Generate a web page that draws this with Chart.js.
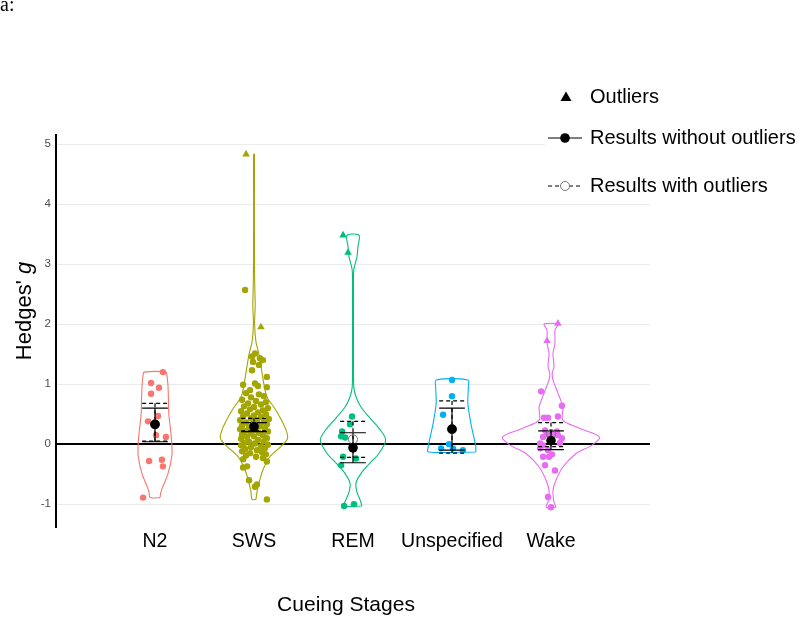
<!DOCTYPE html>
<html>
<head>
<meta charset="utf-8">
<script src="https://cdn.jsdelivr.net/npm/chart.js@4.4.1/dist/chart.umd.min.js"></script>
<style>
  html, body { margin: 0; padding: 0; background: #fff; }
  #wrap { width: 800px; height: 618px; }
</style>
</head>
<body>
<div id="wrap"><canvas id="violinChart" width="800" height="618"></canvas></div>
<script>
// categories sit at x = 1..5 on a linear axis running 0..6
const categories = ['N2', 'SWS', 'REM', 'Unspecified', 'Wake'];
const colors = ['#F8766D', '#A3A500', '#00BF7D', '#00B0F6', '#E76BF3'];
const yTicks = [-1, 0, 1, 2, 3, 4, 5];

// violin outlines: y levels and half widths (x units)
const violinN2Y = [-0.89, -0.8, -0.72, -0.5, -0.2, 0, 0.2, 0.5, 0.8, 1.0, 1.15, 1.2];
const violinN2W = [0.05, 0.06, 0.076, 0.13, 0.17, 0.17, 0.16, 0.14, 0.135, 0.13, 0.12, 0.11];
const violinSWSY = [-0.92, -0.8, -0.65, -0.43, -0.21, -0.04, 0.1, 0.29, 0.57, 0.79, 1.0, 1.2, 1.5, 1.7, 2.0, 2.3, 2.6, 3.0, 4.0, 4.83];
const violinSWSW = [0.02, 0.03, 0.05, 0.09, 0.16, 0.27, 0.34, 0.31, 0.22, 0.13, 0.10, 0.08, 0.05, 0.02, 0.006, 0.012, 0.008, 0.005, 0.004, 0.004];
const violinREMY = [-1.03, -0.92, -0.8, -0.65, -0.49, -0.3, -0.16, 0.07, 0.25, 0.4, 0.62, 0.79, 0.95, 1.5, 2.5, 2.9, 3.12, 3.29, 3.48];
const violinREMW = [0.09, 0.07, 0.04, 0.03, 0.08, 0.18, 0.26, 0.33, 0.27, 0.19, 0.08, 0.03, 0.008, 0.005, 0.005, 0.008, 0.04, 0.05, 0.06];
const violinUnspY = [-0.13, -0.04, 0.12, 0.35, 0.68, 0.95, 1.07];
const violinUnspW = [0.24, 0.24, 0.22, 0.19, 0.16, 0.165, 0.16];
const violinWakeY = [-1.05, -0.96, -0.77, -0.6, -0.38, -0.16, -0.02, 0.12, 0.27, 0.4, 0.62, 0.85, 1.07, 1.18, 1.29, 1.51, 1.68, 1.9, 2.0];
const violinWakeW = [0.05, 0.03, 0.02, 0.05, 0.12, 0.25, 0.41, 0.49, 0.28, 0.12, 0.12, 0.07, 0.02, 0.012, 0.03, 0.02, 0.04, 0.04, 0.07];

// individual effect sizes: [jitter offset, g]
const dotsN2 = [[0.08, 1.20], [-0.04, 1.02], [0.04, 0.94], [-0.04, 0.84], [0.03, 0.47], [-0.07, 0.38],
  [0.01, 0.15], [0.11, 0.12], [-0.06, -0.28], [0.07, -0.26], [0.08, -0.37], [-0.12, -0.89]];
const dotsSWS = [[0.01, 1.51], [-0.02, 1.46], [0.06, 1.43], [-0.01, 1.37], [0.09, 1.40], [0.05, 1.32],
  [-0.02, 1.23], [0.13, 1.12], [-0.11, 0.99], [0.01, 1.01], [-0.04, 0.90], [0.13, 0.95], [0.04, 0.97],
  [-0.09, 2.57],
  [-0.08, 0.85], [0.05, 0.83], [0.10, 0.80], [-0.03, 0.78], [-0.12, 0.74], [0.02, 0.72], [0.12, 0.70],
  [-0.06, 0.68], [0.07, 0.66], [-0.10, 0.63], [0.00, 0.62], [0.14, 0.60], [-0.04, 0.58], [0.09, 0.56],
  [-0.13, 0.55], [0.04, 0.53], [-0.07, 0.51], [0.12, 0.50], [0.00, 0.48], [-0.11, 0.46], [0.07, 0.45],
  [-0.03, 0.43], [0.15, 0.42], [-0.14, 0.40], [0.03, 0.39], [0.10, 0.37], [-0.08, 0.36], [-0.01, 0.34],
  [0.13, 0.33], [-0.12, 0.31], [0.06, 0.30], [-0.05, 0.28], [0.11, 0.26], [-0.14, 0.25], [0.02, 0.24],
  [-0.09, 0.22], [0.14, 0.21], [0.05, 0.19], [-0.03, 0.18], [-0.12, 0.16], [0.09, 0.15], [0.00, 0.13],
  [-0.07, 0.12], [0.13, 0.10], [-0.13, 0.09], [0.04, 0.07], [0.10, 0.05], [-0.05, 0.04], [-0.10, 0.02],
  [0.01, 0.01], [0.14, -0.01], [-0.13, -0.02], [0.07, -0.04], [-0.03, -0.05], [0.11, -0.07], [-0.09, -0.08],
  [0.03, -0.10], [-0.12, -0.12], [0.08, -0.13], [-0.04, -0.15], [0.12, -0.17], [-0.08, -0.19], [0.02, -0.21],
  [0.09, -0.23], [-0.11, -0.25],
  [-0.07, -0.37], [-0.11, -0.39], [0.13, -0.29], [-0.05, -0.60], [0.01, -0.71], [0.03, -0.67], [0.13, -0.92]];
const dotsREM = [[-0.01, 0.46], [-0.03, 0.33], [-0.11, 0.21], [-0.12, 0.13], [-0.08, 0.11], [-0.10, -0.21],
  [0.03, -0.24], [-0.12, -0.35], [-0.09, -1.03], [0.01, -1.00]];
const dotsUnsp = [[0.00, 1.07], [0.00, 0.80], [-0.09, 0.49], [-0.03, 0.00], [-0.11, -0.07], [0.01, -0.07], [0.11, -0.10]];
const dotsWake = [[-0.10, 0.88], [0.11, 0.64], [-0.07, 0.44], [-0.03, 0.44], [0.07, 0.46], [-0.11, 0.01],
  [-0.08, 0.12], [-0.04, 0.17], [0.02, 0.18], [0.07, 0.15], [0.11, 0.10], [0.09, 0.02], [-0.08, -0.02],
  [-0.11, -0.07], [-0.03, -0.10], [0.01, -0.17], [-0.08, -0.21], [-0.02, -0.21], [-0.06, -0.35],
  [0.04, -0.44], [0.06, 0.21], [-0.06, 0.23], [-0.03, -0.88], [0.00, -1.05]];

// outliers (triangles)
const outliersSWS = [[-0.08, 4.83], [0.07, 1.95]];
const outliersREM = [[-0.10, 3.48], [-0.05, 3.19]];
const outliersWake = [[0.07, 2.01], [-0.04, 1.72]];

// summary estimates
const meanNoOut = [0.33, 0.29, -0.06, 0.25, 0.06];
const lowNoOut = [0.04, 0.21, -0.31, -0.10, -0.09];
const highNoOut = [0.60, 0.36, 0.19, 0.60, 0.22];
const meanWithOut = [0.33, 0.30, 0.08, 0.25, 0.17];
const lowWithOut = [0.05, 0.22, -0.22, -0.15, -0.04];
const highWithOut = [0.68, 0.43, 0.38, 0.72, 0.36];

const violinY = [violinN2Y, violinSWSY, violinREMY, violinUnspY, violinWakeY];
const violinW = [violinN2W, violinSWSW, violinREMW, violinUnspW, violinWakeW];
const dots = [dotsN2, dotsSWS, dotsREM, dotsUnsp, dotsWake];
const outliers = [[], outliersSWS, outliersREM, [], outliersWake];
const CAP = 0.13;

function violinOutline(c, levels, widths) {
  const right = levels.map((y, i) => ({ x: c + widths[i], y }));
  const left = levels.map((y, i) => ({ x: c - widths[i], y })).reverse();
  return right.concat(left, [right[0]]);
}

function errorBars(low, high) {
  const pts = [];
  low.forEach((lo, i) => {
    const c = i + 1, hi = high[i];
    pts.push({ x: c - CAP, y: hi }, { x: c + CAP, y: hi }, { x: c, y: null });
    pts.push({ x: c, y: hi }, { x: c, y: lo }, { x: c, y: null });
    pts.push({ x: c - CAP, y: lo }, { x: c + CAP, y: lo }, { x: c, y: null });
  });
  return pts;
}

const datasets = [];
categories.forEach((cat, i) => {
  const c = i + 1;
  datasets.push({
    type: 'line',
    label: cat + ' violin',
    data: violinOutline(c, violinY[i], violinW[i]),
    borderColor: colors[i],
    borderWidth: 1.1,
    pointRadius: 0,
    fill: false,
    tension: 0.3,
    order: 6
  });
  datasets.push({
    label: cat,
    data: dots[i].map(d => ({ x: c + d[0], y: d[1] })),
    backgroundColor: colors[i],
    borderColor: colors[i],
    borderWidth: 0,
    pointRadius: 3.2,
    order: 5
  });
  if (outliers[i].length) {
    datasets.push({
      label: cat + ' outliers',
      data: outliers[i].map(d => ({ x: c + d[0], y: d[1] })),
      backgroundColor: colors[i],
      borderColor: colors[i],
      borderWidth: 0,
      pointStyle: 'triangle',
      pointRadius: 4.4,
      order: 5
    });
  }
});

datasets.push({
  type: 'line',
  label: 'with outliers CI',
  data: errorBars(lowWithOut, highWithOut),
  borderColor: '#000',
  borderWidth: 1.2,
  borderDash: [4, 3],
  pointRadius: 0,
  spanGaps: false,
  fill: false,
  order: 3
});
datasets.push({
  type: 'line',
  label: 'without outliers CI',
  data: errorBars(lowNoOut, highNoOut),
  borderColor: '#000',
  borderWidth: 1.2,
  pointRadius: 0,
  spanGaps: false,
  fill: false,
  order: 2
});
datasets.push({
  label: 'Results with outliers',
  data: meanWithOut.map((m, i) => ({ x: i + 1, y: m })),
  backgroundColor: 'rgba(0,0,0,0)',
  borderColor: '#777',
  borderWidth: 1,
  pointRadius: 4.5,
  order: 1
});
datasets.push({
  label: 'Results without outliers',
  data: meanNoOut.map((m, i) => ({ x: i + 1, y: m })),
  backgroundColor: '#000',
  borderColor: '#000',
  borderWidth: 0,
  pointRadius: 4.8,
  order: 0
});

const decorations = {
  id: 'decorations',
  afterDraw(chart) {
    const ctx = chart.ctx;
    ctx.save();
    // panel tag
    ctx.fillStyle = '#000';
    ctx.font = '20px "Liberation Serif"';
    ctx.textAlign = 'left';
    ctx.textBaseline = 'alphabetic';
    ctx.fillText('a:', 0, 11);

    // y title with italic g
    ctx.font = '22px "Liberation Sans"';
    const part1 = "Hedges' ";
    const w1 = ctx.measureText(part1).width;
    ctx.font = 'italic 22px "Liberation Sans"';
    const w2 = ctx.measureText('g').width;
    ctx.translate(25, 311);
    ctx.rotate(-Math.PI / 2);
    ctx.textBaseline = 'middle';
    ctx.font = '22px "Liberation Sans"';
    ctx.fillText(part1, -(w1 + w2) / 2, 0);
    ctx.font = 'italic 22px "Liberation Sans"';
    ctx.fillText('g', -(w1 + w2) / 2 + w1, 0);
    ctx.restore();

    ctx.save();
    ctx.fillStyle = '#000';
    ctx.font = '21px "Liberation Sans"';
    ctx.textAlign = 'center';
    ctx.textBaseline = 'middle';
    ctx.fillText('Cueing Stages', 346, 605);

    // legend
    ctx.fillStyle = '#fff';
    ctx.fillRect(545, 75, 255, 125);
    ctx.fillStyle = '#000';
    ctx.beginPath();
    ctx.moveTo(566, 91.5);
    ctx.lineTo(571.5, 101);
    ctx.lineTo(560.5, 101);
    ctx.closePath();
    ctx.fill();

    ctx.strokeStyle = '#000';
    ctx.lineWidth = 1.2;
    ctx.beginPath();
    ctx.moveTo(548, 138);
    ctx.lineTo(582, 138);
    ctx.stroke();
    ctx.beginPath();
    ctx.arc(565, 138, 4.8, 0, Math.PI * 2);
    ctx.fill();

    ctx.setLineDash([4, 3]);
    ctx.beginPath();
    ctx.moveTo(548, 186);
    ctx.lineTo(582, 186);
    ctx.stroke();
    ctx.setLineDash([]);
    ctx.fillStyle = '#fff';
    ctx.strokeStyle = '#777';
    ctx.lineWidth = 1;
    ctx.beginPath();
    ctx.arc(565, 186, 4.5, 0, Math.PI * 2);
    ctx.fill();
    ctx.stroke();

    ctx.fillStyle = '#000';
    ctx.font = '20px "Liberation Sans"';
    ctx.textAlign = 'left';
    ctx.fillText('Outliers', 590, 97);
    ctx.fillText('Results without outliers', 590, 138);
    ctx.fillText('Results with outliers', 590, 186);
    ctx.restore();
  }
};

new Chart(document.getElementById('violinChart'), {
  type: 'scatter',
  data: { datasets },
  options: {
    responsive: false,
    animation: false,
    devicePixelRatio: 1,
    layout: { padding: { top: 135, right: 150, left: 0, bottom: 0 } },
    plugins: { legend: { display: false }, tooltip: { enabled: false } },
    scales: {
      x: {
        type: 'linear',
        min: 0,
        max: 6,
        afterBuildTicks(scale) { scale.ticks = categories.map((c, i) => ({ value: i + 1 })); },
        afterFit(scale) { scale.height = 91; },
        grid: { display: false, drawTicks: false },
        border: { display: false },
        ticks: {
          padding: 3,
          color: '#000',
          font: { family: 'Liberation Sans', size: 19.5 },
          callback: v => categories[v - 1]
        }
      },
      y: {
        type: 'linear',
        min: -1.38,
        max: 5.15,
        afterBuildTicks(scale) { scale.ticks = yTicks.map(v => ({ value: v })); },
        afterFit(scale) { scale.width = 56; },
        border: { display: true, color: '#000', width: 2 },
        grid: {
          drawTicks: false,
          color: c => (c.tick && c.tick.value === 0 ? '#000' : '#EBEBEB'),
          lineWidth: c => (c.tick && c.tick.value === 0 ? 2 : 1)
        },
        ticks: {
          padding: 5,
          color: '#4D4D4D',
          font: { family: 'Liberation Sans', size: 11.5 }
        }
      }
    }
  },
  plugins: [decorations]
});
</script>
</body>
</html>
